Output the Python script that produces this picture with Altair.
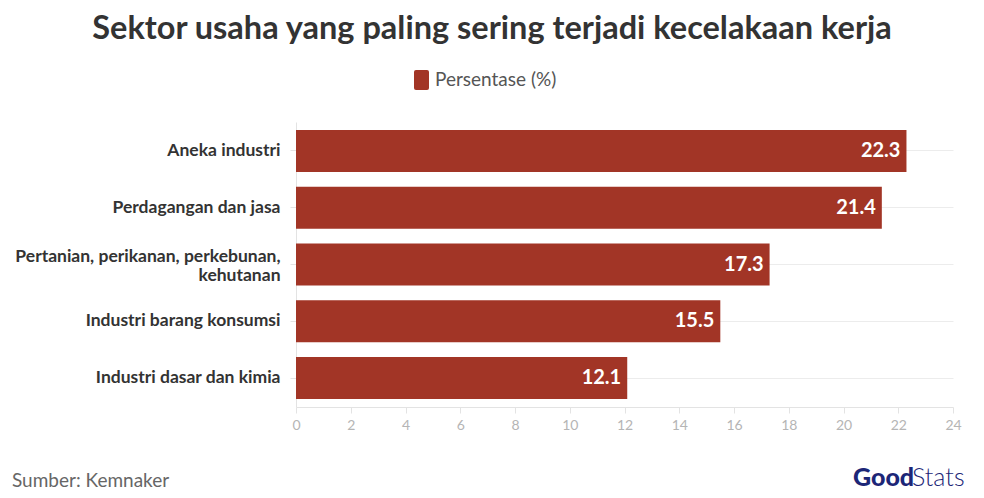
import altair as alt
import pandas as pd

categories = [
    "Aneka industri",
    "Perdagangan dan jasa",
    "Pertanian, perikanan, perkebunan, kehutanan",
    "Industri barang konsumsi",
    "Industri dasar dan kimia",
]
values = [22.3, 21.4, 17.3, 15.5, 12.1]
series_name = "Persentase (%)"
x_ticks = list(range(0, 25, 2))
title_text = "Sektor usaha yang paling sering terjadi kecelakaan kerja"
source_text = "Sumber: Kemnaker"

BAR = "#a23526"
FONT = "Lato"

df = pd.DataFrame({"sektor": categories, "nilai": values, "seri": [series_name] * len(categories)})

long_label = "Pertanian, perikanan, perkebunan, kehutanan"
label_expr = (
    f"datum.value == '{long_label}' ? "
    "['Pertanian, perikanan, perkebunan,', 'kehutanan'] : datum.value"
)

y_enc = alt.Y(
    "sektor:N",
    sort=categories,
    title=None,
    scale=alt.Scale(paddingInner=0.26, paddingOuter=0.14),
    axis=alt.Axis(
        labelExpr=label_expr,
        labelOffset={"condition": {"test": f"datum.value == '{long_label}'", "value": -8}, "value": 0},
        labelFont=FONT,
        labelFontWeight="bold",
        labelFontSize=17.5,
        labelColor="#333333",
        labelLimit=400,
        labelPadding=10,
        labelLineHeight=19,
        tickSize=6,
        tickColor="#e3e3e3",
        domainColor="#e3e3e3",
        grid=True,
        gridColor="#ececec",
    ),
)

rounded = ("M-0.55,-1 L0.55,-1 Q0.75,-1 0.75,-0.8 L0.75,0.8 Q0.75,1 0.55,1 "
           "L-0.55,1 Q-0.75,1 -0.75,0.8 L-0.75,-0.8 Q-0.75,-1 -0.55,-1 Z")

bars = alt.Chart(df).mark_bar(color=BAR).encode(
    x=alt.X(
        "nilai:Q",
        title=None,
        scale=alt.Scale(domain=[0, 24], nice=False),
        axis=alt.Axis(
            values=x_ticks,
            grid=False,
            labelFlush=False,
            labelFont=FONT,
            labelFontSize=14,
            labelColor="#b5b5b5",
            labelPadding=5,
            tickColor="#e3e3e3",
            tickSize=6,
            domainColor="#e3e3e3",
        ),
    ),
    y=y_enc,
    color=alt.Color(
        "seri:N",
        scale=alt.Scale(domain=[series_name], range=[BAR]),
        legend=alt.Legend(
            title=None,
            orient="none",
            legendX=114.5,
            legendY=-53,
            symbolType=rounded,
            symbolSize=400,
            labelFont=FONT,
            labelFontSize=19,
            labelColor="#555555",
            labelOffset=2.5,
        ),
    ),
)

labels = alt.Chart(df).mark_text(
    align="right", baseline="middle", dx=-6, color="white",
    font=FONT, fontWeight="bold", fontSize=20,
).encode(
    x="nilai:Q",
    y=alt.Y("sektor:N", sort=categories),
    text=alt.Text("nilai:Q", format=".1f"),
)

title = alt.Chart(pd.DataFrame({"t": [title_text]})).mark_text(
    align="center", baseline="alphabetic", font=FONT, fontSize=32.5, fontWeight="bold", color="#333333",
).encode(x=alt.value(196), y=alt.value(-83), text="t:N")

source = alt.Chart(pd.DataFrame({"t": [source_text]})).mark_text(
    align="left", baseline="alphabetic", font=FONT, fontSize=19, color="#666666",
).encode(x=alt.value(-284), y=alt.value(365), text="t:N")

logo_good = alt.Chart(pd.DataFrame({"t": ["Good"]})).mark_text(
    align="left", baseline="alphabetic", font=FONT, fontSize=25, fontWeight=900, color="#1c2677",
).encode(x=alt.value(557), y=alt.value(364), text="t:N")

logo_stats = alt.Chart(pd.DataFrame({"t": ["Stats"]})).mark_text(
    align="left", baseline="alphabetic", font=FONT, fontSize=25, fontWeight=300, color="#1c2677",
).encode(x=alt.value(616), y=alt.value(364), text="t:N")

chart = alt.layer(bars, labels, title, source, logo_good, logo_stats).properties(
    width=657,
    height=285,
    autosize=alt.AutoSizeParams(type="none"),
    padding={"left": 288, "top": 114, "right": 23, "bottom": 83},
).configure_view(stroke=None)

chart.save("out.html", embed_options={"renderer": "svg", "actions": False})
